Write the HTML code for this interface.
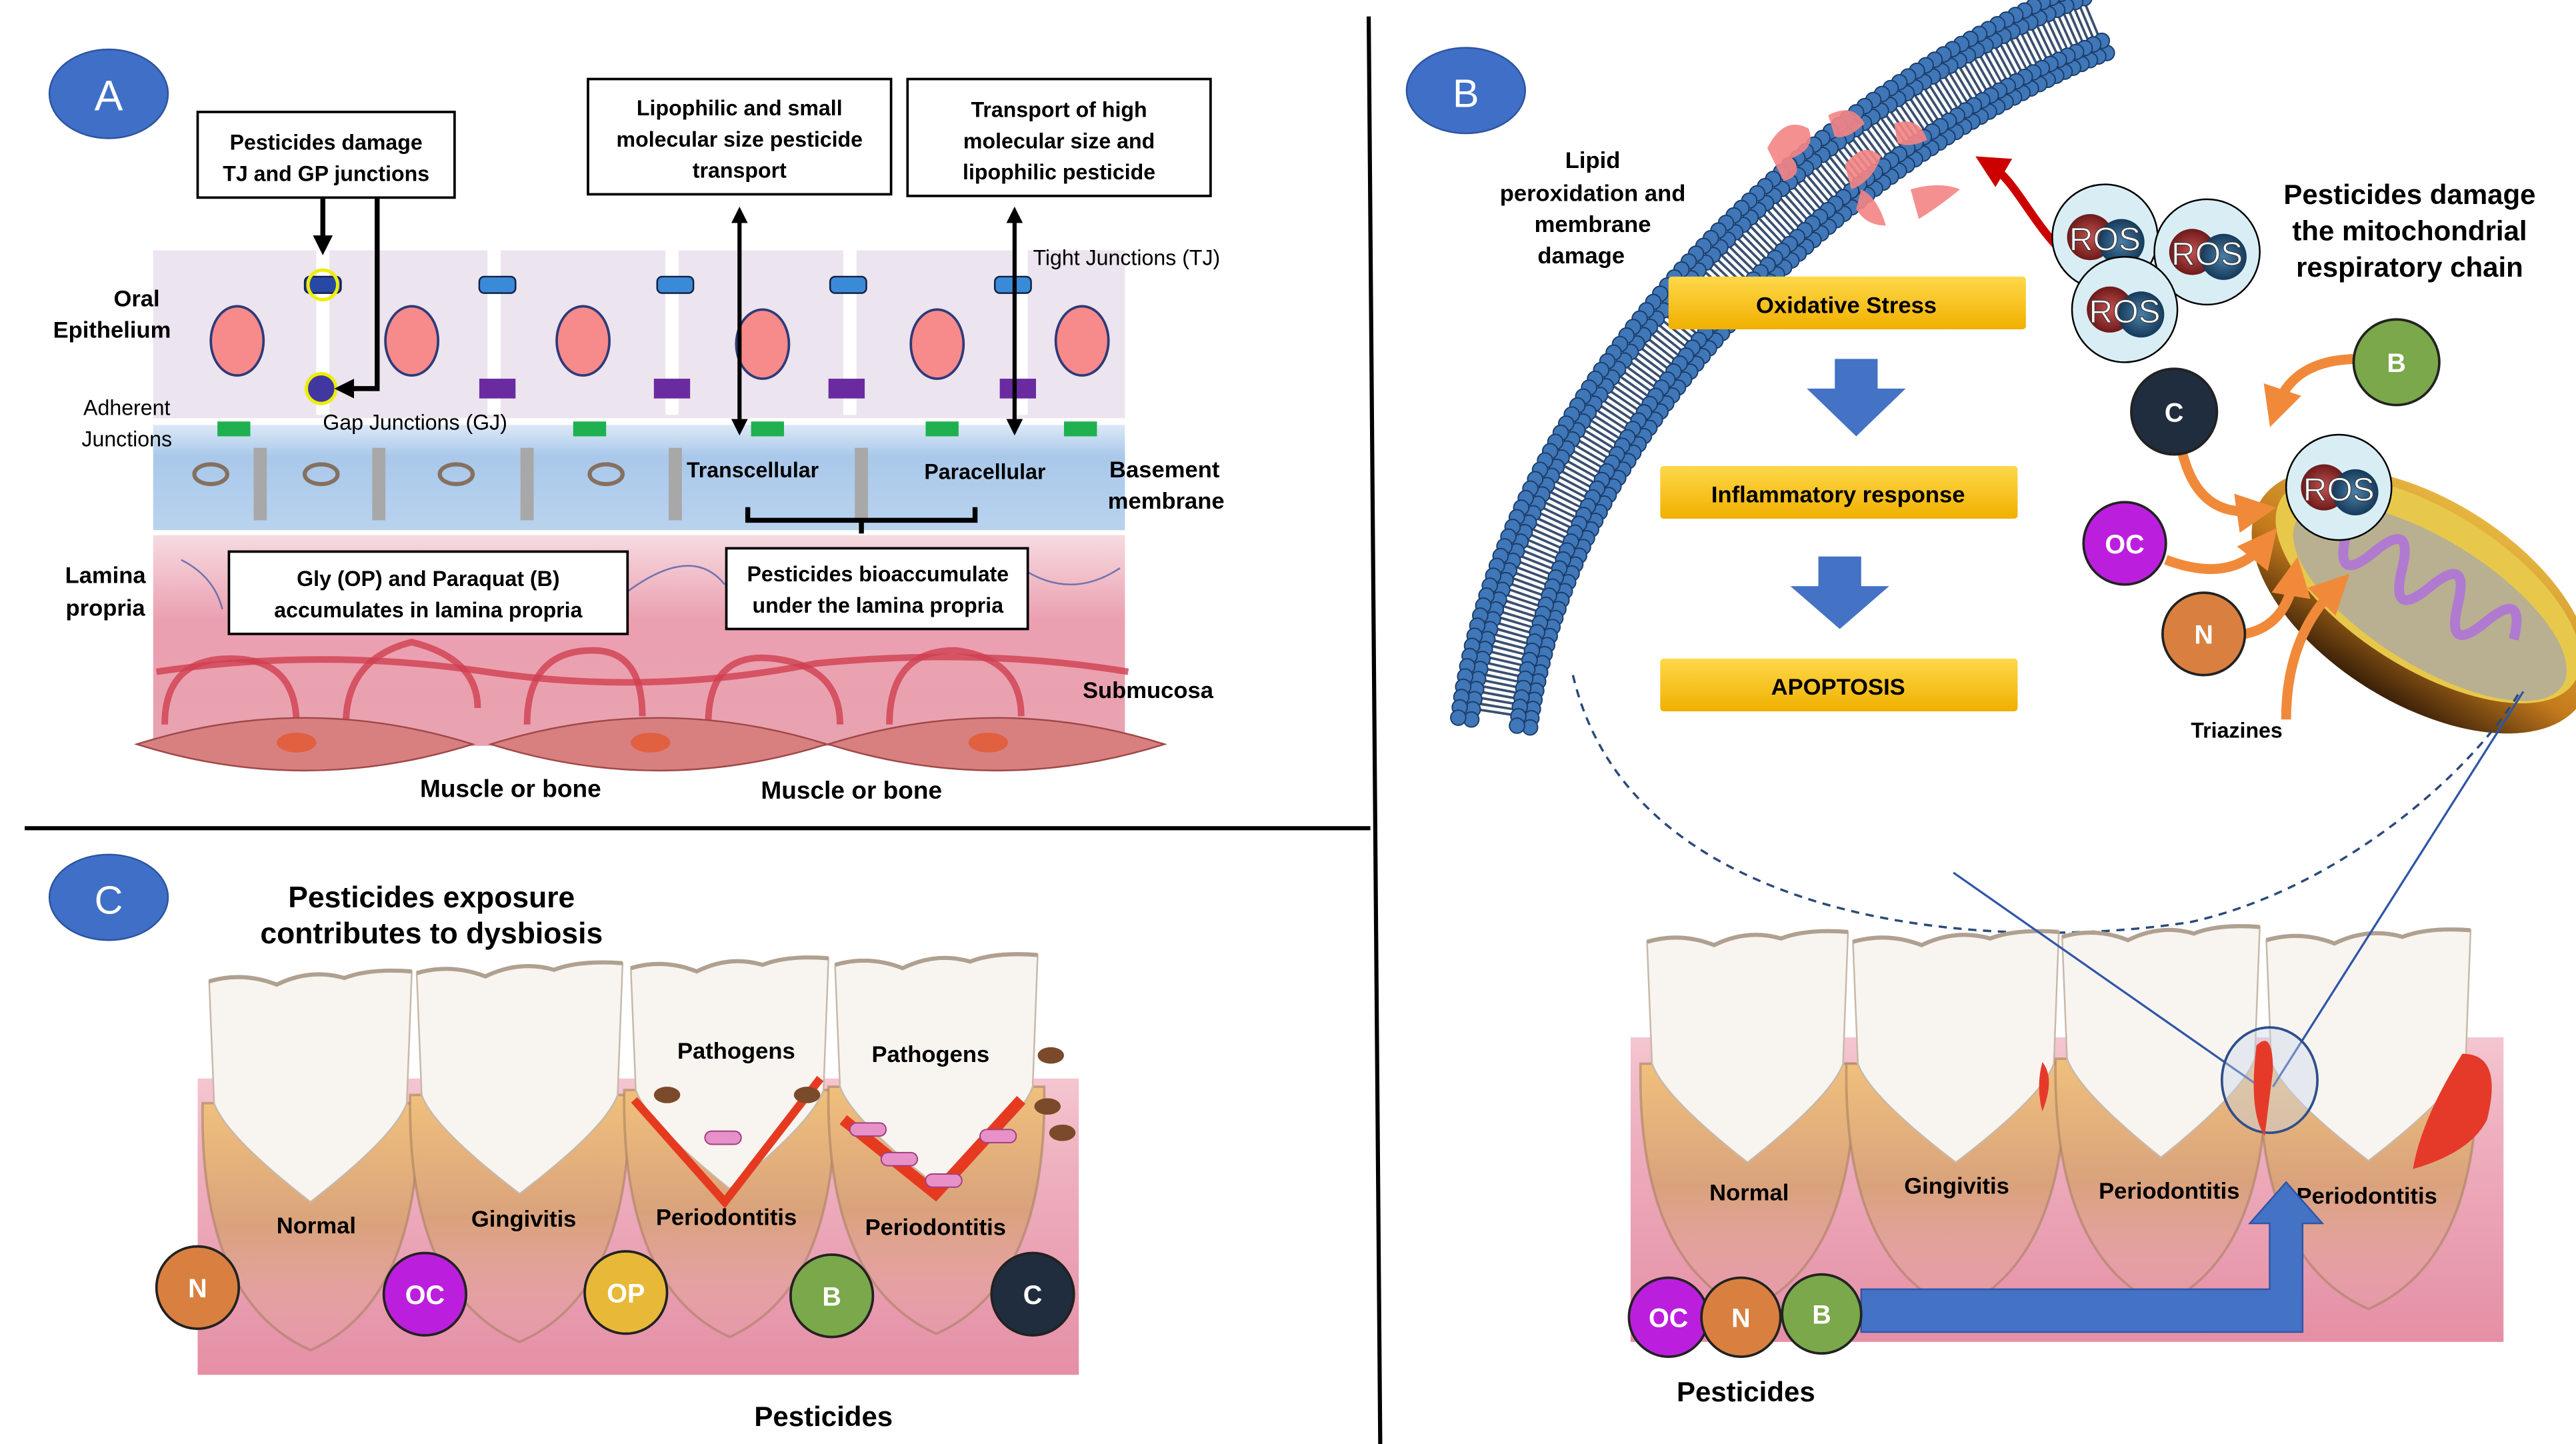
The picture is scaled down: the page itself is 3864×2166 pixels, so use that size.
<!DOCTYPE html>
<html><head><meta charset="utf-8">
<style>
html,body{margin:0;padding:0;background:#fff;}
svg{display:block;}
text{font-family:"Liberation Sans",Arial,sans-serif;}
.b{font-weight:bold;}
</style></head>
<body>
<svg id="s" width="3864" height="2166" viewBox="0 0 1564 877" preserveAspectRatio="none" xmlns="http://www.w3.org/2000/svg">
<defs>
<linearGradient id="bm" x1="0" y1="0" x2="0" y2="1"><stop offset="0" stop-color="#dce9f7"/><stop offset="0.3" stop-color="#a9c8ea"/><stop offset="1" stop-color="#b9d3ee"/></linearGradient>
<linearGradient id="lp" x1="0" y1="0" x2="0" y2="1"><stop offset="0" stop-color="#f6dbe1"/><stop offset="0.4" stop-color="#eba0b0"/><stop offset="1" stop-color="#e8a2b0"/></linearGradient>
<linearGradient id="yb" x1="0" y1="0" x2="0" y2="1"><stop offset="0" stop-color="#ffd84a"/><stop offset="1" stop-color="#f0b000"/></linearGradient>
<linearGradient id="gum" x1="0" y1="0" x2="0" y2="1"><stop offset="0" stop-color="#f4c6d0"/><stop offset="0.3" stop-color="#eeb0bf"/><stop offset="1" stop-color="#e58fa5"/></linearGradient>
<linearGradient id="root" x1="0" y1="0" x2="0" y2="1"><stop offset="0" stop-color="#f0c07c"/><stop offset="0.5" stop-color="#d9a27c"/><stop offset="1" stop-color="#e6a3a8" stop-opacity="0.3"/></linearGradient>
<linearGradient id="mito" x1="0" y1="0" x2="0" y2="1"><stop offset="0" stop-color="#e6b640"/><stop offset="0.6" stop-color="#c47a1c"/><stop offset="1" stop-color="#3a2008"/></linearGradient>
<radialGradient id="ros1"><stop offset="0" stop-color="#c45050"/><stop offset="1" stop-color="#6e1a1a"/></radialGradient>
<radialGradient id="ros2"><stop offset="0" stop-color="#4a7fa8"/><stop offset="1" stop-color="#163a5a"/></radialGradient>
<marker id="ah" markerWidth="4" markerHeight="4" refX="3" refY="2" orient="auto-start-reverse"><path d="M0,0 L4,2 L0,4 z" fill="#000"/></marker>
<marker id="ao" markerWidth="4" markerHeight="4" refX="2" refY="2" orient="auto"><path d="M0,0 L4,2 L0,4 z" fill="#f08a3a"/></marker>
<marker id="ar" markerWidth="4" markerHeight="4" refX="2" refY="2" orient="auto"><path d="M0,0 L4,2 L0,4 z" fill="#c00"/></marker>
</defs>

<line x1="831" y1="10" x2="838" y2="877" stroke="#000" stroke-width="2.5"/>
<line x1="15" y1="503" x2="832" y2="503" stroke="#000" stroke-width="2.5"/>

<!-- ============ PANEL A ============ -->
<ellipse cx="66" cy="57" rx="36" ry="27" fill="#3f6fc6" stroke="#2d55a0"/>
<text x="66" y="67" font-size="26" fill="#fff" text-anchor="middle">A</text>

<rect x="93" y="152" width="590" height="102" fill="#ece4ee"/>
<g id="gaps" fill="#fff"></g>
<rect x="93" y="258" width="590" height="64" fill="url(#bm)"/>
<rect x="93" y="325" width="590" height="128" fill="url(#lp)"/>
<g id="epi"></g>

<text x="83" y="186" font-size="14" class="b" text-anchor="middle">Oral</text>
<text x="68" y="205" font-size="14" class="b" text-anchor="middle">Epithelium</text>
<text x="77" y="252" font-size="13" text-anchor="middle">Adherent</text>
<text x="77" y="271" font-size="13" text-anchor="middle">Junctions</text>
<text x="252" y="261" font-size="13" text-anchor="middle">Gap Junctions (GJ)</text>
<text x="684" y="161" font-size="13" text-anchor="middle">Tight Junctions (TJ)</text>
<text x="457" y="290" font-size="13" class="b" text-anchor="middle">Transcellular</text>
<text x="598" y="291" font-size="13" class="b" text-anchor="middle">Paracellular</text>
<text x="707" y="290" font-size="14" class="b" text-anchor="middle">Basement</text>
<text x="708" y="309" font-size="14" class="b" text-anchor="middle">membrane</text>
<text x="64" y="354" font-size="14" class="b" text-anchor="middle">Lamina</text>
<text x="64" y="374" font-size="14" class="b" text-anchor="middle">propria</text>
<text x="697" y="424" font-size="14" class="b" text-anchor="middle">Submucosa</text>
<text x="310" y="484" font-size="15" class="b" text-anchor="middle">Muscle or bone</text>
<text x="517" y="485" font-size="15" class="b" text-anchor="middle">Muscle or bone</text>

<rect x="120" y="68" width="156" height="52" fill="#fff" stroke="#000" stroke-width="1.5"/>
<text x="198" y="91" font-size="13" class="b" text-anchor="middle">Pesticides damage</text>
<text x="198" y="110" font-size="13" class="b" text-anchor="middle">TJ and GP junctions</text>
<rect x="357" y="48" width="184" height="70" fill="#fff" stroke="#000" stroke-width="1.5"/>
<text x="449" y="70" font-size="13" class="b" text-anchor="middle">Lipophilic and small</text>
<text x="449" y="89" font-size="13" class="b" text-anchor="middle">molecular size pesticide</text>
<text x="449" y="108" font-size="13" class="b" text-anchor="middle">transport</text>
<rect x="551" y="48" width="184" height="71" fill="#fff" stroke="#000" stroke-width="1.5"/>
<text x="643" y="71" font-size="13" class="b" text-anchor="middle">Transport of high</text>
<text x="643" y="90" font-size="13" class="b" text-anchor="middle">molecular size and</text>
<text x="643" y="109" font-size="13" class="b" text-anchor="middle">lipophilic pesticide</text>
<rect x="139" y="335" width="242" height="50" fill="#fff" stroke="#000" stroke-width="1.5"/>
<text x="260" y="356" font-size="13" class="b" text-anchor="middle">Gly (OP) and Paraquat (B)</text>
<text x="260" y="375" font-size="13" class="b" text-anchor="middle">accumulates in lamina propria</text>
<rect x="441" y="333" width="183" height="49" fill="#fff" stroke="#000" stroke-width="1.5"/>
<text x="533" y="353" font-size="13" class="b" text-anchor="middle">Pesticides bioaccumulate</text>
<text x="533" y="372" font-size="13" class="b" text-anchor="middle">under the lamina propria</text>

<line x1="196" y1="120" x2="196" y2="152" stroke="#000" stroke-width="3" marker-end="url(#ah)"/>
<polyline points="229,120 229,236 206,236" fill="none" stroke="#000" stroke-width="3" marker-end="url(#ah)"/>
<line x1="449" y1="128" x2="449" y2="262" stroke="#000" stroke-width="2.5" marker-start="url(#ah)" marker-end="url(#ah)"/>
<line x1="616" y1="128" x2="616" y2="262" stroke="#000" stroke-width="2.5" marker-start="url(#ah)" marker-end="url(#ah)"/>
<path d="M454,308 L454,316 L592,316 L592,308 M523,316 L523,324" fill="none" stroke="#000" stroke-width="3"/>

<!-- ============ PANEL B ============ -->
<ellipse cx="890" cy="55" rx="36" ry="26" fill="#3f6fc6" stroke="#2d55a0"/>
<text x="890" y="65" font-size="24" fill="#fff" text-anchor="middle">B</text>
<g id="mem"></g>
<text x="967" y="102" font-size="14" class="b" text-anchor="middle">Lipid</text>
<text x="967" y="122" font-size="14" class="b" text-anchor="middle">peroxidation and</text>
<text x="967" y="141" font-size="14" class="b" text-anchor="middle">membrane</text>
<text x="960" y="160" font-size="14" class="b" text-anchor="middle">damage</text>
<g fill="#f58585" opacity="0.9">
<path d="M1073,90 q10,-20 25,-12 q5,12 -10,18 q8,10 -5,14z"/>
<path d="M1110,70 q15,-8 22,5 q-10,10 -18,8z"/>
<path d="M1120,100 q12,-15 22,-5 q-5,15 -18,20z"/>
<path d="M1150,75 q15,-5 20,10 q-10,5 -18,2z"/>
<path d="M1160,115 q18,-5 30,0 q-12,10 -25,18z"/>
<path d="M1130,115 q10,5 15,22 q-12,0 -18,-10z"/>
</g>
<path d="M1260,160 C1235,140 1225,110 1208,100" fill="none" stroke="#c00" stroke-width="5" marker-end="url(#ar)"/>
<g id="ros"></g>
<text x="1463" y="124" font-size="17" class="b" text-anchor="middle">Pesticides damage</text>
<text x="1463" y="146" font-size="17" class="b" text-anchor="middle">the mitochondrial</text>
<text x="1463" y="168" font-size="17" class="b" text-anchor="middle">respiratory chain</text>

<rect x="1013" y="168" width="217" height="32" fill="url(#yb)" rx="2"/>
<text x="1121" y="190" font-size="14" class="b" text-anchor="middle">Oxidative Stress</text>
<rect x="1008" y="283" width="217" height="32" fill="url(#yb)" rx="2"/>
<text x="1116" y="305" font-size="14" class="b" text-anchor="middle">Inflammatory response</text>
<rect x="1008" y="400" width="217" height="32" fill="url(#yb)" rx="2"/>
<text x="1116" y="422" font-size="14" class="b" text-anchor="middle">APOPTOSIS</text>
<path d="M1114,218 h26 v18 h17 l-30,29 l-30,-29 h17z" fill="#4472c4"/>
<path d="M1104,338 h26 v18 h17 l-30,26 l-30,-26 h17z" fill="#4472c4"/>

<g transform="translate(1470,365) rotate(32)">
<ellipse cx="0" cy="0" rx="115" ry="62" fill="url(#mito)"/>
<ellipse cx="0" cy="-8" rx="105" ry="48" fill="#e8c84a"/>
<ellipse cx="5" cy="-2" rx="95" ry="38" fill="#b8b090"/>
<path d="M-80,-10 q10,-30 20,0 q10,30 20,0 q10,-30 20,0 q10,30 20,0 q10,-30 20,0 q10,30 20,0 q10,-30 20,0" fill="none" stroke="#b07ad0" stroke-width="6"/>
</g>
<g id="pestB"></g>
<text x="1358" y="448" font-size="13" class="b" text-anchor="middle">Triazines</text>

<path d="M955,410 C990,560 1200,580 1330,560 C1420,540 1500,470 1530,420" fill="none" stroke="#2a4a7a" stroke-width="1.4" stroke-dasharray="5,4"/>

<rect x="990" y="630" width="530" height="185" fill="url(#gum)"/>
<rect x="120" y="655" width="535" height="180" fill="url(#gum)"/>
<g id="teeth"></g>
<line x1="1186" y1="530" x2="1372" y2="660" stroke="#2f55a8" stroke-width="1.3"/>
<line x1="1532" y1="420" x2="1380" y2="660" stroke="#2f55a8" stroke-width="1.3"/>
<ellipse cx="1378" cy="656" rx="29" ry="32" fill="#c8d6ea" fill-opacity="0.4" stroke="#2f4f8a" stroke-width="1.5"/>
<path d="M1370,635 q10,-10 10,15 l-5,40 q-10,-15 -5,-55z" fill="#e53a2a"/>
<path d="M1495,640 q25,0 15,40 q-10,20 -45,30 q5,-30 30,-70z" fill="#e53a2a"/>
<path d="M1240,645 q8,10 0,30 q-4,-15 0,-30z" fill="#e53a2a"/>
<text x="1062" y="729" font-size="14" class="b" text-anchor="middle">Normal</text>
<text x="1188" y="725" font-size="14" class="b" text-anchor="middle">Gingivitis</text>
<text x="1317" y="728" font-size="14" class="b" text-anchor="middle">Periodontitis</text>
<text x="1437" y="731" font-size="14" class="b" text-anchor="middle">Periodontitis</text>
<path d="M1130,783 h248 v-40 h-12 l22,-25 l22,25 h-12 v66 h-268z" fill="#4472c4" stroke="#2f55a8"/>
<g id="pestB2"></g>
<text x="1060" y="851" font-size="17" class="b" text-anchor="middle">Pesticides</text>

<!-- ============ PANEL C ============ -->
<ellipse cx="66" cy="545" rx="36" ry="26" fill="#3f6fc6" stroke="#2d55a0"/>
<text x="66" y="555" font-size="24" fill="#fff" text-anchor="middle">C</text>
<text x="262" y="551" font-size="18" class="b" text-anchor="middle">Pesticides exposure</text>
<text x="262" y="573" font-size="18" class="b" text-anchor="middle">contributes to dysbiosis</text>
<path d="M385,668 L440,730 L498,655" fill="none" stroke="#e63a20" stroke-width="5"/>
<path d="M512,680 L568,725 L620,668" fill="none" stroke="#e63a20" stroke-width="7"/>
<g fill="#e890c8" stroke="#a04080" stroke-width="0.8">
<rect x="428" y="687" width="22" height="8" rx="4"/><rect x="516" y="682" width="22" height="8" rx="4"/>
<rect x="535" y="700" width="22" height="8" rx="4"/><rect x="562" y="713" width="22" height="8" rx="4"/><rect x="595" y="686" width="22" height="8" rx="4"/>
</g>
<g fill="#7a4a2a"><ellipse cx="405" cy="665" rx="8" ry="5"/><ellipse cx="490" cy="665" rx="8" ry="5"/><ellipse cx="638" cy="641" rx="8" ry="5"/><ellipse cx="636" cy="672" rx="8" ry="5"/><ellipse cx="645" cy="688" rx="8" ry="5"/></g>
<text x="447" y="643" font-size="14" class="b" text-anchor="middle">Pathogens</text>
<text x="565" y="645" font-size="14" class="b" text-anchor="middle">Pathogens</text>
<text x="192" y="749" font-size="14" class="b" text-anchor="middle">Normal</text>
<text x="318" y="745" font-size="14" class="b" text-anchor="middle">Gingivitis</text>
<text x="441" y="744" font-size="14" class="b" text-anchor="middle">Periodontitis</text>
<text x="568" y="750" font-size="14" class="b" text-anchor="middle">Periodontitis</text>
<g id="pestC"></g>
<text x="500" y="866" font-size="17" class="b" text-anchor="middle">Pesticides</text>
</svg>
<script>
var NS="http://www.w3.org/2000/svg";
function el(p,t,a,txt){var e=document.createElementNS(NS,t);for(var k in a)e.setAttribute(k,a[k]);if(txt)e.textContent=txt;document.getElementById(p).appendChild(e);return e;}
[196,300,408,516,620].forEach(function(x){el('gaps','rect',{x:x-4,y:152,width:8,height:100,fill:'#fff'});});
[[144,207],[250,207],[354,207],[463,209],[569,209],[657,207]].forEach(function(c){el('epi','ellipse',{cx:c[0],cy:c[1],rx:16,ry:21,fill:'#f78a8a',stroke:'#2d3a7a','stroke-width':1.5});});
[196,302,410,515,615].forEach(function(x,i){
 el('epi','rect',{x:x-11,y:168,width:22,height:10,rx:3,fill:i==0?'#2848a8':'#3a8ad8',stroke:'#124'});
 if(i==0){el('epi','circle',{cx:x,cy:173,r:9,fill:'none',stroke:'#ee0','stroke-width':2});}
});
el('epi','circle',{cx:195,cy:236,r:9,fill:'#4038a0',stroke:'#ee0','stroke-width':2});
[302,408,514,618].forEach(function(x){el('epi','rect',{x:x-11,y:230,width:22,height:12,fill:'#6a2aa0'});});
[142,358,466,572,656].forEach(function(x){el('epi','rect',{x:x-10,y:256,width:20,height:9,fill:'#1fb050'});});
[128,195,277,368].forEach(function(x){el('epi','ellipse',{cx:x,cy:288,rx:10,ry:6,fill:'none',stroke:'#857060','stroke-width':2.5});});
[158,230,320,410,523].forEach(function(x){el('epi','rect',{x:x-4,y:272,width:8,height:44,fill:'#a8a8a8'});});
['M110,340 q20,10 25,30','M380,360 q40,-30 60,-5','M620,345 q30,20 60,0','M100,440 q0,-40 40,-40 q40,0 40,40','M210,440 q0,-40 40,-50 q40,10 40,40','M320,440 q0,-45 40,-45 q30,0 30,40','M430,440 q0,-45 40,-40 q40,5 40,40','M540,440 q0,-45 40,-45 q40,5 40,40','M95,408 q100,-15 200,0 q100,15 200,-5 q100,-10 190,5'].forEach(function(d,i){el('epi','path',{d:d,fill:'none',stroke:i<3?'#5060a8':'#d04050','stroke-width':i<3?1:4,opacity:0.8});});
[185,400,605].forEach(function(x){el('epi','path',{d:'M'+(x-102)+',452 Q'+x+',420 '+(x+102)+',452 Q'+x+',484 '+(x-102)+',452z',fill:'#d88080',stroke:'#a04848'});el('epi','ellipse',{cx:x-5,cy:451,rx:12,ry:6,fill:'#e06040'});});
function bez(t,o){var P=[[1270,10],[1100,80],[930,250],[905,440]];var mt=1-t;var x=mt*mt*mt*P[0][0]+3*mt*mt*t*P[1][0]+3*mt*t*t*P[2][0]+t*t*t*P[3][0];var y=mt*mt*mt*P[0][1]+3*mt*mt*t*P[1][1]+3*mt*t*t*P[2][1]+t*t*t*P[3][1];
 var dx=-3*mt*mt*P[0][0]+3*(mt*mt-2*mt*t)*P[1][0]+3*(2*mt*t-t*t)*P[2][0]+3*t*t*P[3][0];var dy=-3*mt*mt*P[0][1]+3*(mt*mt-2*mt*t)*P[1][1]+3*(2*mt*t-t*t)*P[2][1]+3*t*t*P[3][1];var L=Math.hypot(dx,dy);return [x-dy/L*o,y+dx/L*o];}
var pd='';for(var t=0;t<=1;t+=0.01){var p=bez(t,-2);pd+=(t==0?'M':'L')+p[0]+','+p[1];}
el('mem','path',{d:pd,fill:'none',stroke:'#3a4f70','stroke-width':30,'stroke-dasharray':'1.5,2'});
[-24,-16,12,20].forEach(function(o){for(var t=0;t<=1;t+=0.0105){var p=bez(t,o);el('mem','circle',{cx:p[0],cy:p[1],r:4.6,fill:'#3f77b8',stroke:'#1d3d6a','stroke-width':0.8});}});
function ros(g,cx,cy){el(g,'circle',{cx:cx,cy:cy,r:32,fill:'#d8eef4',stroke:'#000','stroke-width':1});el(g,'circle',{cx:cx-9,cy:cy,r:14,fill:'url(#ros1)'});el(g,'circle',{cx:cx+10,cy:cy+3,r:14,fill:'url(#ros2)'});el(g,'text',{x:cx,y:cy+8,'font-size':20,'text-anchor':'middle',fill:'#fff',stroke:'#333','stroke-width':0.4},'ROS');}
ros('ros',1278,144);ros('ros',1340,153);ros('ros',1290,188);
ros('pestB',1420,296);
function pc(g,cx,cy,r,fill,lab){el(g,'circle',{cx:cx,cy:cy,r:r,fill:fill,stroke:'#222','stroke-width':1.5});el(g,'text',{x:cx,y:cy+6,'font-size':16,'font-weight':'bold','text-anchor':'middle',fill:'#fff'},lab);}
[['M1432,218 q-40,0 -50,30'],['M1325,275 q10,40 45,35'],['M1315,340 q40,15 60,-10'],['M1363,385 q25,-5 30,-35'],['M1388,437 q0,-50 30,-80']].forEach(function(a){el('pestB','path',{d:a[0],fill:'none',stroke:'#f08a3a','stroke-width':6,'marker-end':'url(#ao)'});});
pc('pestB',1455,220,26,'#7aa84a','B');pc('pestB',1320,250,26,'#1f2d3e','C');pc('pestB',1290,330,25,'#bb1fdd','OC');pc('pestB',1338,385,25,'#d98040','N');
function tooth(x0,y0,w,h){var m=x0+w/2;
 el('teeth','path',{d:'M'+(x0-4)+','+(y0+80)+' Q'+(x0-6)+','+(y0+200)+' '+m+','+(y0+230)+' Q'+(x0+w+6)+','+(y0+200)+' '+(x0+w+4)+','+(y0+80)+'z',fill:'url(#root)',stroke:'#a88060','stroke-width':1.5,'stroke-opacity':0.6});
 el('teeth','path',{d:'M'+x0+','+(y0+6)+' q'+(w/6)+',-6 '+(w/3)+',2 q'+(w/6)+',-10 '+(w/3)+',-4 q'+(w/8)+',-6 '+(w/3)+',-4 L'+(x0+w-3)+','+(y0+80)+' Q'+(x0+w-10)+','+(y0+100)+' '+m+','+(y0+h)+' Q'+(x0+10)+','+(y0+100)+' '+(x0+3)+','+(y0+80)+'z',fill:'#f8f4f0',stroke:'#c8b8a8','stroke-width':1});
 el('teeth','path',{d:'M'+x0+','+(y0+6)+' q'+(w/6)+',-6 '+(w/3)+',2 q'+(w/6)+',-10 '+(w/3)+',-4 q'+(w/8)+',-6 '+(w/3)+',-4',fill:'none',stroke:'#b0a090','stroke-width':2.5});}
[[127,590,123],[253,585,125],[383,582,120],[507,580,123]].forEach(function(t){tooth(t[0],t[1],t[2],140);});
[[1000,566,122],[1125,566,125],[1252,563,120],[1376,565,124]].forEach(function(t){tooth(t[0],t[1],t[2],140);});
pc('pestC',120,782,25,'#d98040','N');pc('pestC',258,786,25,'#bb1fdd','OC');pc('pestC',380,785,25,'#e8b838','OP');pc('pestC',505,787,25,'#7aa84a','B');pc('pestC',627,786,25,'#1f2d3e','C');
pc('pestB2',1013,800,24,'#bb1fdd','OC');pc('pestB2',1057,800,24,'#d98040','N');pc('pestB2',1106,798,24,'#7aa84a','B');
</script>
</body></html>
